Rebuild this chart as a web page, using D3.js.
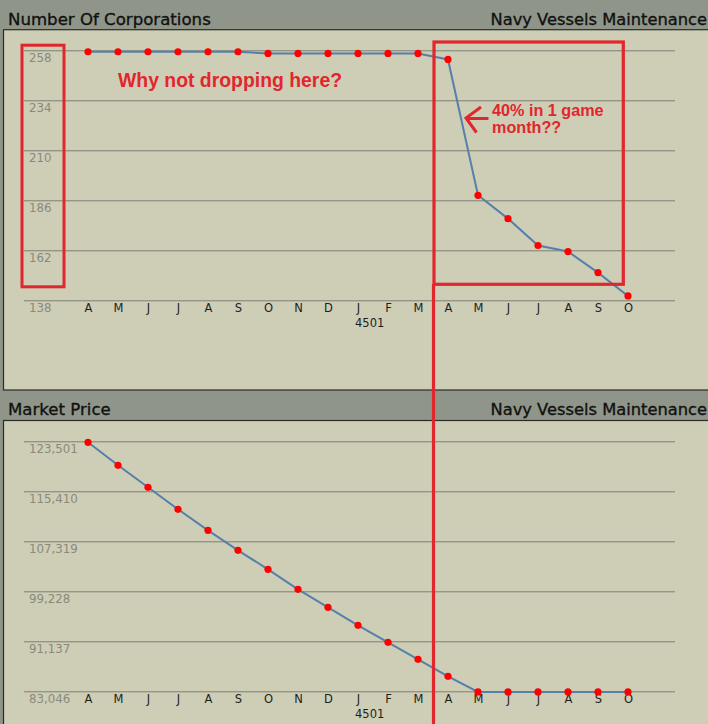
<!DOCTYPE html>
<html><head><meta charset="utf-8">
<script src="https://cdn.jsdelivr.net/npm/d3@7"></script>
<style>html,body{margin:0;padding:0;background:#8f9689;overflow:hidden}</style>
</head><body>
<svg id="c" width="708" height="724"></svg>
<script>
const months = ["A","M","J","J","A","S","O","N","D","J","F","M","A","M","J","J","A","S","O"];
const yearLabel = "4501";
const yearIndex = 9;
const corporations = [257.3,257.3,257.3,257.3,257.3,257.3,256.5,256.5,256.5,256.5,256.5,256.5,253.6,188.4,177.2,164.3,161.4,151.3,140.1];
const marketPrice = [123340,119617,116057,112497,109099,105863,102788,99552,96639,93726,90975,88224,85473,82940,82940,82940,82940,82940,82940];
const corpTicks = [258,234,210,186,162,138];
const priceTicks = [123501,115410,107319,99228,91137,83046];
const leftTitles = ["Number Of Corporations","Market Price"];
const rightTitle = "Navy Vessels Maintenance";

const svg = d3.select("#c");
const RED = "#e2262d";

function panel(opts){
  const g = svg.append("g");
  g.append("text").attr("x",8).attr("y",opts.titleBase).text(opts.title)
    .attr("font-family","DejaVu Sans").attr("font-size",16.6).attr("fill","#111")
    .attr("stroke","#111").attr("stroke-width",0.35);
  g.append("text").attr("x",707).attr("y",opts.titleBase).attr("text-anchor","end").text(rightTitle)
    .attr("font-family","DejaVu Sans").attr("font-size",16.3).attr("fill","#111")
    .attr("stroke","#111").attr("stroke-width",0.35);
  g.append("rect").attr("x",3.5).attr("y",opts.boxTop).attr("width",720).attr("height",opts.boxH)
    .attr("fill","#cecdb6").attr("stroke","#2b2b2b").attr("stroke-width",1.2);

  const x = d3.scalePoint().domain(d3.range(months.length)).range([88,628]);
  const y = d3.scaleLinear().domain(opts.domain).range(opts.range);

  const ya = d3.axisLeft(y).tickValues(opts.ticks).tickSize(-651).tickFormat(d3.format(","));
  const yg = g.append("g").attr("transform","translate(24,0)").call(ya);
  yg.select(".domain").remove();
  yg.selectAll(".tick line").attr("stroke","#7f7f76").attr("stroke-width",1);
  yg.selectAll(".tick text").attr("x",5).attr("dy",null).attr("y",11).attr("text-anchor","start")
    .attr("fill","#8a897c").attr("font-family","DejaVu Sans").attr("font-size",11.8);

  const xa = d3.axisBottom(x).tickSize(0).tickFormat(i=>months[i]);
  const xg = g.append("g").attr("transform",`translate(0,${opts.range[0]})`).call(xa);
  xg.select(".domain").remove();
  xg.selectAll(".tick text").attr("dy",null).attr("y",11.5).attr("fill","#1e1e1e")
    .attr("font-family","DejaVu Sans").attr("font-size",11.5);
  g.append("text").attr("x",x(yearIndex)-3).attr("y",opts.range[0]+26.5).text(yearLabel)
    .attr("fill","#1e1e1e").attr("font-family","DejaVu Sans").attr("font-size",11.5);

  const line = d3.line().x((d,i)=>x(i)).y(d=>y(d));
  g.append("path").datum(opts.data).attr("d",line).attr("fill","none")
    .attr("stroke","#5680aa").attr("stroke-width",2);
  g.selectAll("circle.pt").data(opts.data).join("circle").attr("class","pt")
    .attr("cx",(d,i)=>x(i)).attr("cy",d=>y(d)).attr("r",3.6).attr("fill","#ff0000");
  return {x,y};
}

panel({title:leftTitles[0], titleBase:25, boxTop:29.7, boxH:360.3, domain:[138,258], range:[300.3,50.3], ticks:corpTicks, data:corporations});
panel({title:leftTitles[1], titleBase:415, boxTop:420.5, boxH:320, domain:[83046,123501], range:[691.3,441.3], ticks:priceTicks, data:marketPrice});

const ann = svg.append("g");
ann.append("rect").attr("x",22).attr("y",45.2).attr("width",42).attr("height",241.6)
  .attr("fill","none").attr("stroke",RED).attr("stroke-width",3);
ann.append("rect").attr("x",434).attr("y",42).attr("width",189.3).attr("height",242.3)
  .attr("fill","none").attr("stroke",RED).attr("stroke-width",3.2);
ann.append("line").attr("x1",433.5).attr("x2",433.5).attr("y1",284).attr("y2",724)
  .attr("stroke",RED).attr("stroke-width",3.2);
ann.append("text").attr("x",118).attr("y",87.3).text("Why not dropping here?")
  .attr("font-family","Liberation Sans").attr("font-weight","bold").attr("font-size",19.4).attr("fill",RED);
ann.append("text").attr("x",492).attr("y",116).text("40% in 1 game")
  .attr("font-family","Liberation Sans").attr("font-weight","bold").attr("font-size",16.2).attr("fill",RED);
ann.append("text").attr("x",492).attr("y",133.3).text("month??")
  .attr("font-family","Liberation Sans").attr("font-weight","bold").attr("font-size",16.2).attr("fill",RED);
ann.append("path").attr("d","M481,107 L466,118 L476.5,132.5 M466.5,118.5 L488.5,118.5")
  .attr("fill","none").attr("stroke",RED).attr("stroke-width",3);
</script>
</body></html>
